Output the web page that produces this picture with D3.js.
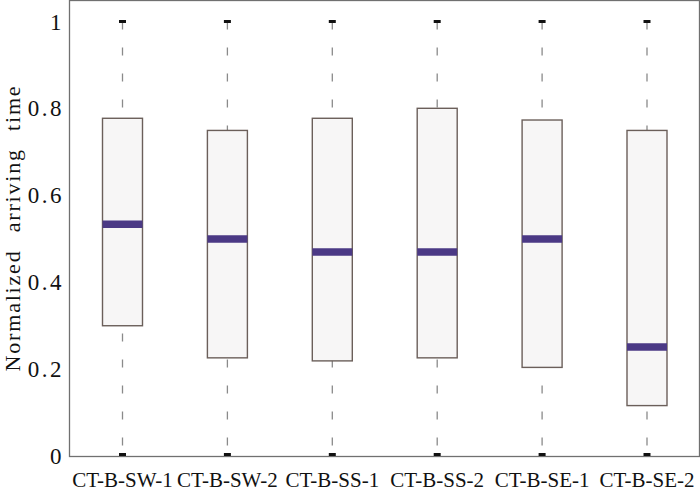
<!DOCTYPE html>
<html>
<head>
<meta charset="utf-8">
<script src="https://cdn.jsdelivr.net/npm/d3@7"></script>
<style>
  body { margin: 0; background: #fff; }
  text { font-family: "Liberation Serif", "Times New Roman", serif; fill: #111; }
</style>
</head>
<body>
<div id="chart"></div>
<script>
var categories = ["CT-B-SW-1", "CT-B-SW-2", "CT-B-SS-1", "CT-B-SS-2", "CT-B-SE-1", "CT-B-SE-2"];
var whiskerLow = [0, 0, 0, 0, 0, 0];
var q1 = [0.299, 0.225, 0.218, 0.225, 0.203, 0.115];
var median = [0.533, 0.499, 0.469, 0.469, 0.499, 0.25];
var q3 = [0.777, 0.749, 0.777, 0.8, 0.773, 0.749];
var whiskerHigh = [1, 1, 1, 1, 1, 1];
var yTicks = [0, 0.2, 0.4, 0.6, 0.8, 1];

var width = 700, height = 492;
var margin = {top: 0, right: 1, bottom: 36, left: 69};
var innerW = width - margin.left - margin.right,
    innerH = height - margin.top - margin.bottom;

var svg = d3.select("#chart")
    .append("svg")
    .attr("width", width)
    .attr("height", height);

var g = svg.append("g")
    .attr("transform", "translate(" + margin.left + "," + margin.top + ")");

var x = d3.scalePoint()
    .domain(categories)
    .range([53.5, 578]);

var y = d3.scaleLinear()
    .domain([0, 1])
    .range([455.5, 21.5]);

var data = categories.map(function(c, i) {
  return {name: c, lo: whiskerLow[i], q1: q1[i], med: median[i], q3: q3[i], hi: whiskerHigh[i]};
});

// frame
g.append("rect")
    .attr("x", 0.5).attr("y", 0.5)
    .attr("width", innerW).attr("height", innerH)
    .attr("fill", "none")
    .attr("stroke", "#707070")
    .attr("stroke-width", 1.3);

var boxW = 40;
var boxes = g.selectAll(".box")
    .data(data)
    .enter().append("g")
    .attr("class", "box")
    .attr("transform", function(d) { return "translate(" + x(d.name) + ",0)"; });

// whisker (one dashed line, box drawn on top)
boxes.append("line")
    .attr("x1", 0).attr("x2", 0)
    .attr("y1", function(d) { return y(d.hi); })
    .attr("y2", function(d) { return y(d.lo); })
    .attr("stroke", "#8a8a8a")
    .attr("stroke-width", 1.3)
    .attr("stroke-dasharray", "8,18");

// whisker caps
boxes.append("line")
    .attr("x1", -3.5).attr("x2", 3.5)
    .attr("y1", function(d) { return y(d.hi); })
    .attr("y2", function(d) { return y(d.hi); })
    .attr("stroke", "#111").attr("stroke-width", 3);
boxes.append("line")
    .attr("x1", -3.5).attr("x2", 3.5)
    .attr("y1", function(d) { return y(d.lo) - 1; })
    .attr("y2", function(d) { return y(d.lo) - 1; })
    .attr("stroke", "#111").attr("stroke-width", 3);

// box
boxes.append("rect")
    .attr("x", -boxW / 2)
    .attr("y", function(d) { return y(d.q3); })
    .attr("width", boxW)
    .attr("height", function(d) { return y(d.q1) - y(d.q3); })
    .attr("fill", "#f7f6f6")
    .attr("stroke", "#6b5f5a")
    .attr("stroke-width", 1.4);

// median
boxes.append("line")
    .attr("x1", -boxW / 2).attr("x2", boxW / 2)
    .attr("y1", function(d) { return y(d.med); })
    .attr("y2", function(d) { return y(d.med); })
    .attr("stroke", "#4b3985")
    .attr("stroke-width", 7.5);

// y tick labels
g.selectAll(".ylab")
    .data(yTicks)
    .enter().append("text")
    .attr("class", "ylab")
    .attr("x", -5)
    .attr("y", function(d) { return y(d); })
    .attr("dy", "0.35em")
    .attr("text-anchor", "end")
    .style("font-size", "23px")
    .style("letter-spacing", "2.5px")
    .text(function(d) { return d3.format("")(d); });

// x tick labels
g.selectAll(".xlab")
    .data(categories)
    .enter().append("text")
    .attr("class", "xlab")
    .attr("x", function(d) { return x(d); })
    .attr("y", 487)
    .attr("text-anchor", "middle")
    .style("font-size", "21px")
    .text(function(d) { return d; });

// y axis title
svg.append("text")
    .attr("transform", "translate(20,228) rotate(-90)")
    .attr("text-anchor", "middle")
    .style("font-size", "22px")
    .style("letter-spacing", "1.8px")
    .style("word-spacing", "10px")
    .text("Normalized arriving time");
</script>
</body>
</html>
